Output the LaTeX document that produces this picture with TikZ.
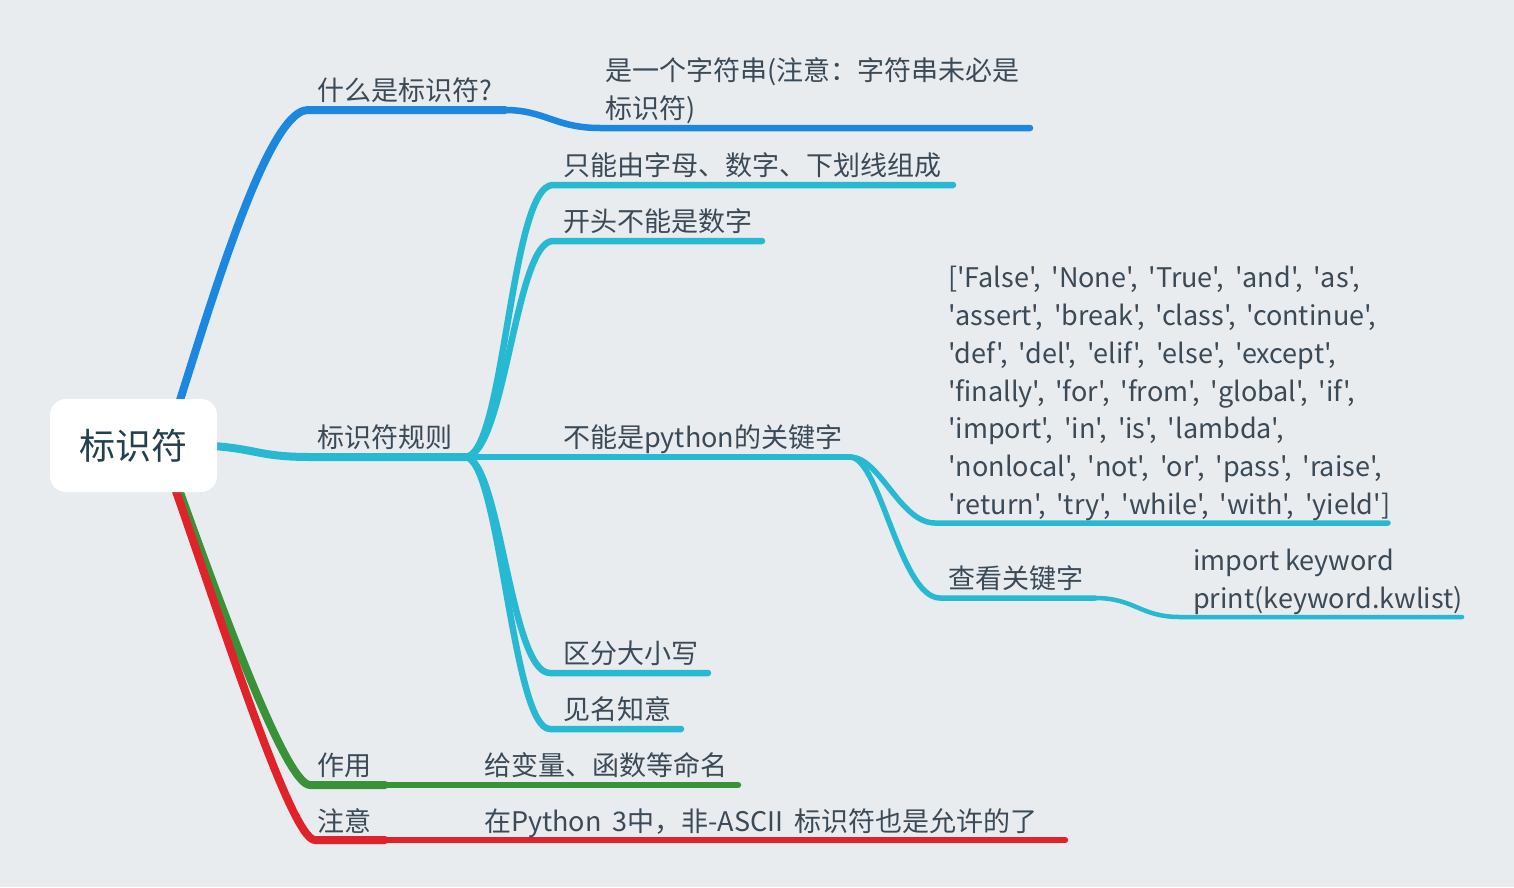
\documentclass[tikz,border=0pt]{standalone}
\usepackage{fontspec}
\setmainfont{Noto Sans CJK SC}[Ligatures=TeXOff]
\usetikzlibrary{backgrounds}
\newcommand\kwsp{\spaceskip=10.8pt\relax}
\definecolor{bg}{HTML}{E8ECEF}
\definecolor{blueA}{HTML}{1C87DF}
\definecolor{cyanA}{HTML}{27B8D2}
\definecolor{greenA}{HTML}{3A9238}
\definecolor{redA}{HTML}{E0232B}
\definecolor{txt}{HTML}{3A4A56}
\definecolor{roottxt}{HTML}{24404F}
\begin{document}
\begin{tikzpicture}[x=1pt,y=-1pt,
  lbl/.style={anchor=base west, inner sep=0pt, text=txt, font=\fontsize{27}{38}\selectfont},
  rootbox/.style={fill=white, rounded corners=16pt, minimum width=167pt, minimum height=93pt, inner sep=0pt, text=roottxt, font=\fontsize{36}{40}\selectfont},
  br/.style={line cap=round, line join=round},
  lvA/.style={br, line width=8pt},
  lvB/.style={br, line width=6.5pt},
  lvC/.style={br, line width=5.5pt},
  lvD/.style={br, line width=4.5pt}]
\useasboundingbox (0,0) rectangle (1514,887);

% ---- nodes ----
\node[rootbox] (root) at (133.5,445.5) {标识符};

\node[lbl] (t1) at (317,100) {什么是标识符?};
\node[lbl] (t1a) at (605,80) {是一个字符串(注意：字符串未必是};
\node[lbl] (t1b) at (605,118) {标识符)};

\node[lbl] (t2) at (317,447) {标识符规则};
\node[lbl] (t21) at (563,175) {只能由字母、数字、下划线组成};
\node[lbl] (t22) at (563,231) {开头不能是数字};
\node[lbl] (t23) at (563,447) {不能是python的关键字};
\node[lbl] (k1) at (948,287) {\kwsp['False', 'None', 'True', 'and', 'as',};
\node[lbl] (k2) at (948,325) {\kwsp'assert', 'break', 'class', 'continue',};
\node[lbl] (k3) at (948,363) {\kwsp'def', 'del', 'elif', 'else', 'except',};
\node[lbl] (k4) at (948,401) {\kwsp'finally', 'for', 'from', 'global', 'if',};
\node[lbl] (k5) at (948,438) {\kwsp'import', 'in', 'is', 'lambda',};
\node[lbl] (k6) at (948,476) {\kwsp'nonlocal', 'not', 'or', 'pass', 'raise',};
\node[lbl] (k7) at (948,514) {\kwsp'return', 'try', 'while', 'with', 'yield']};
\node[lbl] (t232) at (948,588) {查看关键字};
\node[lbl] (c1) at (1193,570) {import keyword};
\node[lbl] (c2) at (1193,608) {print(keyword.kwlist)};
\node[lbl] (t24) at (563,663) {区分大小写};
\node[lbl] (t25) at (563,719) {见名知意};

\node[lbl] (t3) at (317,775) {作用};
\node[lbl] (t31) at (484,775) {给变量、函数等命名};
\node[lbl] (t4) at (317,831) {注意};
\node[lbl] (t41) at (484,831) {\kwsp 在Python 3中，非-ASCII 标识符也是允许的了};

% ---- connector points ----
\coordinate (rb) at (160,460);
\coordinate (rc) at (180,445);
\coordinate (rg) at (172,470);
\coordinate (rr) at (165,460);
\coordinate (q1a) at (308,110);
\coordinate (q1b) at (505,110);
\coordinate (q11a) at (600,128);
\coordinate (q11b) at (1030,128);
\coordinate (q2a) at (310,457);
\coordinate (hub) at (465,457);
\coordinate (q21a) at (553,185);
\coordinate (q21b) at (953,185);
\coordinate (q22a) at (553,241);
\coordinate (q22b) at (762,241);
\coordinate (hub2) at (850,457);
\coordinate (q231a) at (935,523);
\coordinate (q231b) at (1388,523);
\coordinate (q232a) at (940,598);
\coordinate (q232b) at (1095,598);
\coordinate (q2321a) at (1180,617);
\coordinate (q2321b) at (1462,617);
\coordinate (q24a) at (550,673);
\coordinate (q24b) at (708,673);
\coordinate (q25a) at (550,729);
\coordinate (q25b) at (681,729);
\coordinate (q3a) at (310,785);
\coordinate (q3m) at (385,785);
\coordinate (q3b) at (738,785);
\coordinate (q4a) at (315,840);
\coordinate (q4m) at (385,840);
\coordinate (q4b) at (1065,840);

\begin{scope}[on background layer]
\fill[bg] (0,0) rectangle (1514,887);
% blue branch
\draw[lvA, blueA] (rb) .. controls (190,380) and (260,110) .. (q1a) -- (q1b);
\draw[lvB, blueA] (q1b) .. controls (545,110) and (555,128) .. (q11a) -- (q11b);
% cyan branch
\draw[lvA, cyanA] (rc) .. controls (255,445) and (250,457) .. (q2a) -- (hub);
\draw[lvB, cyanA] (hub) .. controls (505,457) and (510,185) .. (q21a) -- (q21b);
\draw[lvB, cyanA] (hub) .. controls (505,457) and (515,241) .. (q22a) -- (q22b);
\draw[lvB, cyanA] (hub) -- (hub2);
\draw[lvB, cyanA] (hub) .. controls (500,457) and (510,673) .. (q24a) -- (q24b);
\draw[lvB, cyanA] (hub) .. controls (500,457) and (512,729) .. (q25a) -- (q25b);
\draw[lvC, cyanA] (hub2) .. controls (880,457) and (900,523) .. (q231a) -- (q231b);
\draw[lvC, cyanA] (hub2) .. controls (880,457) and (900,598) .. (q232a) -- (q232b);
\draw[lvD, cyanA] (q232b) .. controls (1135,598) and (1140,617) .. (q2321a) -- (q2321b);
% green branch
\draw[lvA, greenA] (rg) .. controls (215,590) and (285,785) .. (q3a) -- (q3m);
\draw[lvB, greenA] (q3m) -- (q3b);
% red branch
\draw[lvA, redA] (rr) .. controls (215,600) and (290,840) .. (q4a) -- (q4m);
\draw[lvB, redA] (q4m) -- (q4b);
\end{scope}
\end{tikzpicture}
\end{document}
